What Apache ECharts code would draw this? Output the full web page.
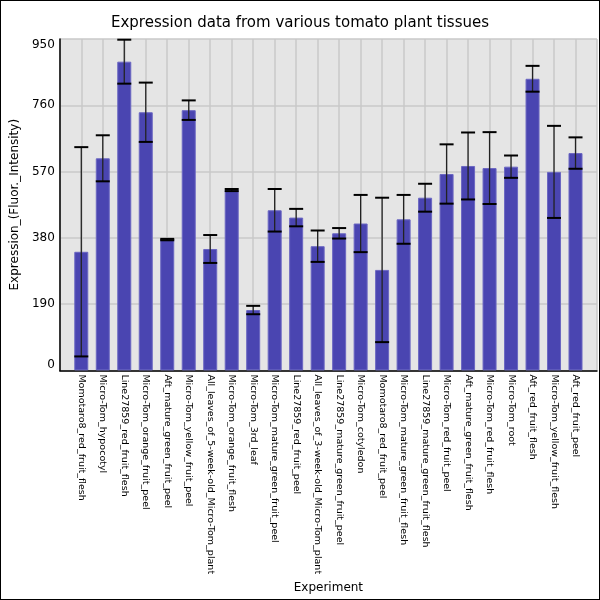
<!DOCTYPE html>
<html>
<head>
<meta charset="utf-8">
<script src="https://cdn.jsdelivr.net/npm/echarts@6/dist/echarts.min.js"></script>
<style>
  html, body { margin: 0; padding: 0; background: #fff; }
  #chart { width: 600px; height: 600px; box-sizing: border-box; border: 1px solid #000; }
</style>
</head>
<body>
<div id="chart"></div>
<script>
'use strict'

var tissues = [
    'Momotaro8_red_fruit_flesh', 'Micro-Tom_hypocotyl', 'Line27859_red_fruit_flesh',
    'Micro-Tom_orange_fruit_peel', 'Aft_mature_green_fruit_peel', 'Micro-Tom_yellow_fruit_peel',
    'All_leaves_of_5-week-old_Micro-Tom_plant', 'Micro-Tom_orange_fruit_flesh', 'Micro-Tom_3rd_leaf',
    'Micro-Tom_mature_green_fruit_peel', 'Line27859_red_fruit_peel', 'All_leaves_of_3-week-old_Micro-Tom_plant',
    'Line27859_mature_green_fruit_peel', 'Micro-Tom_cotyledon', 'Momotaro8_red_fruit_peel',
    'Micro-Tom_mature_green_fruit_flesh', 'Line27859_mature_green_fruit_flesh', 'Micro-Tom_red_fruit_peel',
    'Aft_mature_green_fruit_flesh', 'Micro-Tom_red_fruit_flesh', 'Micro-Tom_root',
    'Aft_red_fruit_flesh', 'Micro-Tom_yellow_fruit_flesh', 'Aft_red_fruit_peel'
];
var expression = [
    340, 608, 885, 740, 375, 746, 348, 517, 173, 459, 438, 356,
    393, 421, 288, 433, 495, 563, 586, 580, 584, 836, 569, 623
];
var errors = [
    300, 66, 63, 85, 2, 28, 40, 3, 12, 61, 25, 45,
    15, 82, 207, 70, 40, 85, 96, 103, 32, 37, 132, 45
];
var yTicks = [0, 190, 380, 570, 760, 950];

var barData = expression.map(function (v, i) { return [i, v]; });
var errData = expression.map(function (v, i) { return [i, v, errors[i]]; });

var chart = echarts.init(document.getElementById('chart'));

chart.setOption({
    animation: false,
    title: {
        text: 'Expression data from various tomato plant tissues',
        left: 'center',
        top: 10,
        textStyle: {
            fontFamily: 'DejaVu Sans',
            fontSize: 15,
            fontWeight: 'normal',
            color: '#000'
        }
    },
    grid: {
        left: 56,
        right: 2,
        top: 38,
        bottom: 226,
        show: true,
        backgroundColor: '#e5e5e5',
        borderWidth: 0
    },
    xAxis: {
        type: 'value',
        min: -1,
        max: tissues.length,
        interval: 1,
        name: 'Experiment',
        nameLocation: 'middle',
        nameGap: 203,
        nameTextStyle: { fontFamily: 'DejaVu Sans', fontSize: 12, color: '#000' },
        axisLine: { show: true, onZero: false, lineStyle: { color: '#000', width: 1.5 } },
        axisTick: { show: false },
        splitLine: { show: true, lineStyle: { color: '#c8c8c8', width: 1.5 } },
        axisLabel: {
            rotate: -90,
            margin: 4,
            fontFamily: 'DejaVu Sans',
            fontSize: 9.5,
            color: '#000',
            formatter: function (v) { return tissues[v] || ''; }
        }
    },
    yAxis: {
        type: 'value',
        min: yTicks[0],
        max: yTicks[yTicks.length - 1],
        interval: 190,
        name: 'Expression_(Fluor._Intensity)',
        nameLocation: 'middle',
        nameGap: 35,
        nameTextStyle: { fontFamily: 'DejaVu Sans', fontSize: 12, color: '#000' },
        axisLine: { show: true, onZero: false, lineStyle: { color: '#000', width: 1.5 } },
        axisTick: { show: false },
        splitLine: { show: true, lineStyle: { color: '#c8c8c8', width: 1.5 } },
        axisLabel: {
            margin: 5,
            fontFamily: 'DejaVu Sans',
            fontSize: 12,
            color: '#000',
            verticalAlignMinLabel: 'bottom',
            verticalAlignMaxLabel: 'top'
        }
    },
    series: [{
        type: 'bar',
        data: barData,
        barWidth: 14,
        itemStyle: {
            color: '#4a45b1',
            borderColor: '#6b67c2',
            borderWidth: 1
        }
    }, {
        type: 'custom',
        data: errData,
        z: 10,
        renderItem: function (params, api) {
            var x = api.value(0);
            var v = api.value(1);
            var e = api.value(2);
            var hi = api.coord([x, v + e]);
            var lo = api.coord([x, v - e]);
            var half = 7;
            return {
                type: 'group',
                children: [{
                    type: 'line',
                    shape: { x1: hi[0], y1: hi[1], x2: lo[0], y2: lo[1] },
                    style: { stroke: '#222', lineWidth: 1.3 }
                }, {
                    type: 'line',
                    shape: { x1: hi[0] - half, y1: hi[1], x2: hi[0] + half, y2: hi[1] },
                    style: { stroke: '#000', lineWidth: 2 }
                }, {
                    type: 'line',
                    shape: { x1: lo[0] - half, y1: lo[1], x2: lo[0] + half, y2: lo[1] },
                    style: { stroke: '#000', lineWidth: 2 }
                }]
            };
        }
    }]
});
</script>
</body>
</html>
